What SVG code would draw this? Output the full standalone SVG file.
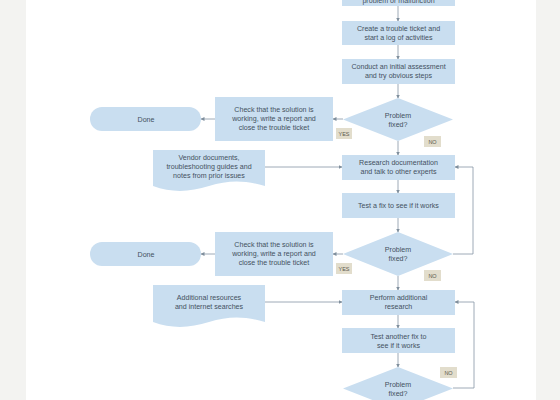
<svg xmlns="http://www.w3.org/2000/svg" width="560" height="400" viewBox="0 0 560 400">
<defs>
<marker id="ah" markerWidth="4" markerHeight="4" refX="3.5" refY="2" orient="auto" markerUnits="userSpaceOnUse">
<path d="M0,0 L4,2 L0,4 z" fill="#7f8e9c"/>
</marker>
<style>
.box{fill:#c9def0;}
.t{font-family:"Liberation Sans",Arial,sans-serif;font-size:7.1px;fill:#44515f;text-anchor:middle;}
.lbl{fill:#e2ddcc;}
.lt{font-family:"Liberation Sans",Arial,sans-serif;font-size:5.5px;fill:#5d5a4e;text-anchor:middle;}
.c{fill:none;stroke:#8796a4;stroke-width:0.8;}
</style>
</defs>
<rect x="0" y="0" width="560" height="400" fill="#ffffff"/>
<rect x="0" y="0" width="26" height="400" fill="#f3f3f1"/>
<rect x="536" y="0" width="24" height="400" fill="#f3f3f1"/>

<g id="connectors">
<path class="c" d="M398,6 V21" marker-end="url(#ah)"/>
<path class="c" d="M398,45 V59" marker-end="url(#ah)"/>
<path class="c" d="M398,84 V98" marker-end="url(#ah)"/>
<path class="c" d="M343,119 H333" marker-end="url(#ah)"/>
<path class="c" d="M215,119 H201" marker-end="url(#ah)"/>
<path class="c" d="M398,141 V155" marker-end="url(#ah)"/>
<path class="c" d="M265,167 H342" marker-end="url(#ah)"/>
<path class="c" d="M398,180 V193" marker-end="url(#ah)"/>
<path class="c" d="M398,218 V232" marker-end="url(#ah)"/>
<path class="c" d="M453,254 H473 V167 H455" marker-end="url(#ah)"/>
<path class="c" d="M343,254 H333" marker-end="url(#ah)"/>
<path class="c" d="M215,254 H201" marker-end="url(#ah)"/>
<path class="c" d="M398,276 V290" marker-end="url(#ah)"/>
<path class="c" d="M265,302 H342" marker-end="url(#ah)"/>
<path class="c" d="M398,315 V328" marker-end="url(#ah)"/>
<path class="c" d="M398,353 V367" marker-end="url(#ah)"/>
<path class="c" d="M453,388 H474 V302 H455" marker-end="url(#ah)"/>
</g>

<g id="n-start">
<rect class="box" x="342" y="-20" width="113" height="26"/>
<text class="t" x="398.5" y="3">problem or malfunction</text>
</g>
<g id="n-ticket">
<rect class="box" x="342" y="21" width="113" height="24"/>
<text class="t" x="398.5" y="31">Create a trouble ticket and</text>
<text class="t" x="398.5" y="40">start a log of activities</text>
</g>
<g id="n-assess">
<rect class="box" x="342" y="59" width="113" height="25"/>
<text class="t" x="398.5" y="69">Conduct an initial assessment</text>
<text class="t" x="398.5" y="78">and try obvious steps</text>
</g>
<g id="n-dec1">
<polygon class="box" points="398,98 453,119.5 398,141 343,119.5"/>
<text class="t" x="398" y="118">Problem</text>
<text class="t" x="398" y="127">fixed?</text>
</g>
<g id="l-yes1">
<rect class="lbl" x="336" y="128" width="16" height="11"/>
<text class="lt" x="344" y="135.5">YES</text>
</g>
<g id="l-no1">
<rect class="lbl" x="424" y="136" width="17" height="11"/>
<text class="lt" x="432.5" y="143.5">NO</text>
</g>
<g id="n-check1">
<rect class="box" x="215" y="97" width="118" height="44"/>
<text class="t" x="274" y="112">Check that the solution is</text>
<text class="t" x="274" y="121">working, write a report and</text>
<text class="t" x="274" y="130">close the trouble ticket</text>
</g>
<g id="n-done1">
<rect class="box" x="90" y="107" width="111" height="24" rx="12"/>
<text class="t" x="146" y="121.5">Done</text>
</g>
<g id="n-vendor">
<path class="box" d="M153,150 H265 V186 C245,180 228,180 209,186 S172,193 153,186 Z"/>
<text class="t" x="209" y="160">Vendor documents,</text>
<text class="t" x="209" y="169">troubleshooting guides and</text>
<text class="t" x="209" y="178">notes from prior issues</text>
</g>
<g id="n-research">
<rect class="box" x="342" y="155" width="113" height="25"/>
<text class="t" x="398.5" y="165">Research documentation</text>
<text class="t" x="398.5" y="174">and talk to other experts</text>
</g>
<g id="n-test1">
<rect class="box" x="342" y="193" width="113" height="25"/>
<text class="t" x="398.5" y="208">Test a fix to see if it works</text>
</g>
<g id="n-dec2">
<polygon class="box" points="398,232 453,254 398,276 343,254"/>
<text class="t" x="398" y="252">Problem</text>
<text class="t" x="398" y="261">fixed?</text>
</g>
<g id="l-yes2">
<rect class="lbl" x="336" y="263" width="16" height="11"/>
<text class="lt" x="344" y="270.5">YES</text>
</g>
<g id="l-no2">
<rect class="lbl" x="424" y="270" width="17" height="11"/>
<text class="lt" x="432.5" y="277.5">NO</text>
</g>
<g id="n-check2">
<rect class="box" x="215" y="232" width="118" height="44"/>
<text class="t" x="274" y="247">Check that the solution is</text>
<text class="t" x="274" y="256">working, write a report and</text>
<text class="t" x="274" y="265">close the trouble ticket</text>
</g>
<g id="n-done2">
<rect class="box" x="90" y="242" width="111" height="24" rx="12"/>
<text class="t" x="146" y="256.5">Done</text>
</g>
<g id="n-additional">
<path class="box" d="M153,285 H265 V322 C245,316 228,316 209,322 S172,329 153,322 Z"/>
<text class="t" x="209" y="300">Additional resources</text>
<text class="t" x="209" y="309">and internet searches</text>
</g>
<g id="n-perform">
<rect class="box" x="342" y="290" width="113" height="25"/>
<text class="t" x="398.5" y="300">Perform additional</text>
<text class="t" x="398.5" y="309">research</text>
</g>
<g id="n-test2">
<rect class="box" x="342" y="328" width="113" height="25"/>
<text class="t" x="398.5" y="339">Test another fix to</text>
<text class="t" x="398.5" y="348">see if it works</text>
</g>
<g id="n-dec3">
<polygon class="box" points="398,367 453,388.5 398,410 343,388.5"/>
<text class="t" x="398" y="387">Problem</text>
<text class="t" x="398" y="396">fixed?</text>
</g>
<g id="l-no3">
<rect class="lbl" x="440" y="367" width="17" height="11"/>
<text class="lt" x="448.5" y="374.5">NO</text>
</g>
</svg>
